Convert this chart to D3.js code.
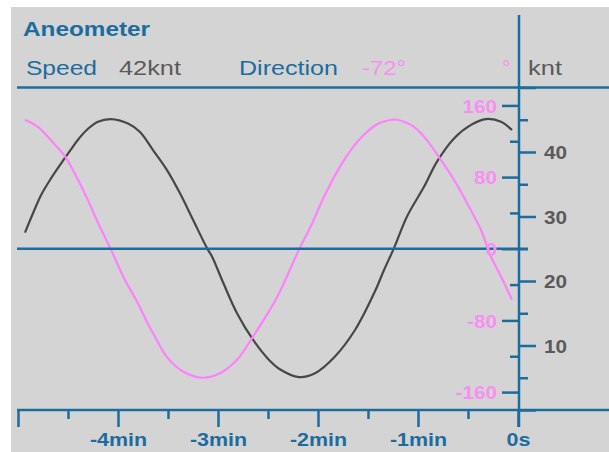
<!DOCTYPE html>
<html>
<head>
<meta charset="utf-8">
<script src="https://cdn.jsdelivr.net/npm/d3@7"></script>
<style>
  html, body { margin: 0; padding: 0; background: #fff; }
  svg { display: block; font-family: "Liberation Sans", Arial, sans-serif; }
</style>
</head>
<body>
<svg id="chart"></svg>
<script>
// values (time in minutes before now)
const speedTimes = [-4.93, -4.85, -4.77, -4.67, -4.57, -4.47, -4.40, -4.30, -4.20, -4.07, -3.90, -3.78, -3.65, -3.51, -3.38, -3.25, -3.11, -3.06, -2.95, -2.81, -2.65, -2.48, -2.39, -2.19, -2.03, -1.83, -1.63, -1.43, -1.34, -1.24, -1.11, -0.94, -0.81, -0.64, -0.47, -0.32, -0.17, -0.06];
const speedValues = [27.5, 30.5, 33.3, 35.9, 38.2, 40.4, 41.9, 43.6, 44.7, 45.1, 44.4, 43.1, 40.3, 37.2, 33.6, 29.5, 25.1, 23.8, 19.8, 15.0, 10.9, 7.6, 6.4, 5.1, 5.7, 8.3, 12.4, 18.4, 21.7, 25.1, 30.0, 34.6, 38.5, 42.1, 44.2, 45.1, 44.7, 43.4];

const dirTimes = [-4.93, -4.80, -4.67, -4.53, -4.40, -4.30, -4.20, -4.07, -3.93, -3.80, -3.70, -3.65, -3.51, -3.35, -3.15, -2.98, -2.81, -2.65, -2.48, -2.39, -2.19, -2.06, -1.94, -1.74, -1.56, -1.39, -1.26, -1.21, -1.04, -0.91, -0.77, -0.64, -0.51, -0.37, -0.27, -0.17, -0.06];
const dirValues = [144, 136, 121, 103, 77, 54, 29, -1, -35, -61, -84, -94, -121, -137, -144, -139, -124, -98, -68, -50, -1, 28, 58, 99, 125, 140, 144, 144, 136, 121, 99, 77, 51, 21, -9, -31, -57];

const timeMajor = [-5, -4, -3, -2, -1, 0];
const timeMinor = [-4.5, -3.5, -2.5, -1.5, -0.5];
const timeLabels = { "-4": "-4min", "-3": "-3min", "-2": "-2min", "-1": "-1min", "0": "0s" };
const speedMajor = [0, 10, 20, 30, 40, 50];
const speedMinor = [5, 15, 25, 35, 45];
const dirMajor = [-160, -80, 0, 80, 160];
const dirMinor = [-120, -40, 40, 120];

const title = "Aneometer";
const speedNow = "42knt";
const dirNow = "-72°";

const W = 609, H = 452;
const BLUE = "#1c6c9e", PINK = "#ff80ff", PINK_TXT = "#f98ef3", GREY_TXT = "#5a5a5a";
const STRETCH = 1.12;

const svg = d3.select("#chart").attr("width", W).attr("height", H);

// panel background
svg.append("rect").attr("x", 11).attr("y", 7).attr("width", W - 11).attr("height", H - 7).attr("fill", "#d4d4d4");

const x = d3.scaleLinear().domain([-5, 0]).range([18, 518]);
const ySpeed = d3.scaleLinear().domain([0, 50]).range([410, 87.5]);
const yDir = d3.scaleLinear().domain([-180, 180]).range([410, 87.5]);

// curves
const speedLine = d3.line().curve(d3.curveCatmullRom).x((d, i) => x(speedTimes[i])).y((d) => ySpeed(d));
const dirLine = d3.line().curve(d3.curveCatmullRom).x((d, i) => x(dirTimes[i])).y((d) => yDir(d));

svg.append("path").datum(speedValues).attr("d", speedLine)
   .attr("fill", "none").attr("stroke", "#474747").attr("stroke-width", 2.2).attr("stroke-linejoin", "round");
svg.append("path").datum(dirValues).attr("d", dirLine)
   .attr("fill", "none").attr("stroke", PINK).attr("stroke-width", 2.2).attr("stroke-linejoin", "round");

// frame lines
const axisX = x(0) + 1;
const lines = [
   [17, ySpeed(50), W, ySpeed(50)],
   [17, ySpeed(0), W, ySpeed(0)],
   [17, yDir(0), axisX + 9, yDir(0)],
   [axisX, 15, axisX, ySpeed(0) + 17],
];
svg.selectAll(".frame").data(lines).enter().append("line")
   .attr("x1", (d) => d[0]).attr("y1", (d) => d[1]).attr("x2", (d) => d[2]).attr("y2", (d) => d[3])
   .attr("stroke", BLUE).attr("stroke-width", 2.5);

const styleAxis = (g) => {
   g.select(".domain").remove();
   g.selectAll(".tick line").attr("stroke", BLUE).attr("stroke-width", 2.5);
};

// bottom time axis
svg.append("g").attr("transform", `translate(0,${ySpeed(0)})`)
   .call(d3.axisBottom(x).tickValues(timeMinor).tickSize(9).tickFormat(""))
   .call(styleAxis);
svg.append("g").attr("transform", `translate(0,${ySpeed(0)})`)
   .call(d3.axisBottom(x).tickValues(timeMajor).tickSize(17).tickFormat((d) => timeLabels[String(d)] || ""))
   .call(styleAxis)
   .call((g) => g.selectAll(".tick text")
      .attr("y", 36).attr("dy", 0)
      .attr("fill", BLUE).style("font-size", "18.5px").style("font-weight", "bold")
      .attr("transform", "scale(1.16,1)"));

// left direction axis
svg.append("g").attr("transform", `translate(${axisX},0)`)
   .call(d3.axisLeft(yDir).tickValues(dirMinor).tickSize(9).tickFormat(""))
   .call(styleAxis);
svg.append("g").attr("transform", `translate(${axisX},0)`)
   .call(d3.axisLeft(yDir).tickValues(dirMajor).tickSize(17).tickFormat((d) => String(d)))
   .call(styleAxis)
   .call((g) => g.selectAll(".tick text")
      .attr("x", -22 / STRETCH).attr("dy", "0.36em")
      .attr("fill", PINK_TXT).style("font-size", "18.5px").style("font-weight", "bold")
      .attr("transform", `scale(${STRETCH},1)`));

// right speed axis
svg.append("g").attr("transform", `translate(${axisX},0)`)
   .call(d3.axisRight(ySpeed).tickValues(speedMinor).tickSize(9).tickFormat(""))
   .call(styleAxis);
svg.append("g").attr("transform", `translate(${axisX},0)`)
   .call(d3.axisRight(ySpeed).tickValues(speedMajor).tickSize(17).tickFormat((d) => (d === 0 || d === 50 ? "" : String(d))))
   .call(styleAxis)
   .call((g) => g.selectAll(".tick text")
      .attr("x", 25 / STRETCH).attr("dy", "0.36em")
      .attr("fill", GREY_TXT).style("font-size", "18.5px").style("font-weight", "bold")
      .attr("transform", `scale(${STRETCH},1)`));

// header texts
const header = [
   { t: title, x: 23, y: 36, w: 127, c: BLUE, b: true },
   { t: "Speed", x: 26, y: 75, w: 71, c: BLUE },
   { t: speedNow, x: 119, y: 75, w: 62, c: GREY_TXT },
   { t: "Direction", x: 239, y: 75, w: 99, c: BLUE },
   { t: dirNow, x: 362, y: 75, w: 44, c: PINK_TXT },
   { t: "°", x: 502, y: 75, w: null, c: PINK_TXT },
   { t: "knt", x: 528, y: 75, w: 34, c: GREY_TXT },
];
svg.selectAll(".hdr").data(header).enter().append("text")
   .attr("x", (d) => d.x).attr("y", (d) => d.y)
   .attr("textLength", (d) => d.w).attr("lengthAdjust", (d) => (d.w ? "spacingAndGlyphs" : null))
   .attr("fill", (d) => d.c)
   .style("font-size", "21px")
   .style("font-weight", (d) => (d.b ? "bold" : "normal"))
   .text((d) => d.t);
</script>
</body>
</html>
